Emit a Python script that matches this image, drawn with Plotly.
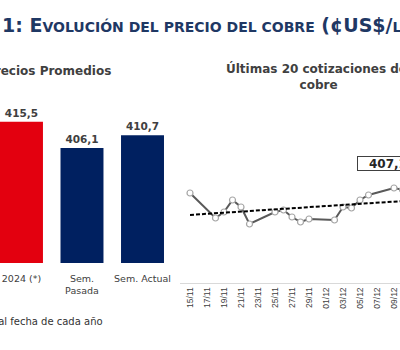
import numpy as np
import pandas as pd
import plotly.graph_objects as go

# ---------------- data ----------------
bar_cats = ["2024 (*)", "Sem.<br>Pasada", "Sem. Actual"]
bar_vals = [415.5, 406.1, 410.7]
bar_colors = ["#E3000F", "#002060", "#002060"]

line_dates = ["2024-11-15", "2024-11-18", "2024-11-19", "2024-11-20", "2024-11-21",
              "2024-11-22", "2024-11-25", "2024-11-26", "2024-11-27", "2024-11-28",
              "2024-11-29", "2024-12-02", "2024-12-03", "2024-12-04", "2024-12-05",
              "2024-12-06", "2024-12-09", "2024-12-10", "2024-12-11", "2024-12-12"]
line_vals = [411.3, 401.3, 403.7, 408.5, 405.7,
             398.9, 403.7, 404.5, 401.7, 399.7,
             400.9, 400.5, 405.7, 405.3, 408.5,
             410.5, 413.3, 412.6, 409.8, 407.1]

title_text = "1: E<span style='font-size:14px'>VOLUCIÓN DEL PRECIO DEL COBRE</span> (¢US$/<span style='font-size:14px'>LB</span>)"
left_sub = "Precios Promedios"
right_sub = "Últimas 20 cotizaciones del<br>cobre"
foot = "(*) Promedio al fecha de cada año"

W, H = 400, 350
def px(x):
    return x / W
def py(y):
    return 1 - y / H

# trend line (least squares on date axis)
d = pd.to_datetime(line_dates)
days = np.array([(t - d[0]).days for t in d], dtype=float)
slope, icpt = np.polyfit(days, np.array(line_vals), 1)
trend_vals = [icpt + slope * days[0], icpt + slope * days[-1]]
trend_dates = [line_dates[0], line_dates[-1]]

fig = go.Figure()
fig.add_trace(go.Bar(
    x=bar_cats, y=bar_vals, marker=dict(color=bar_colors, line=dict(width=0)),
    texttemplate="%{y:.1f}", textposition="outside", cliponaxis=False,
    textfont=dict(family="DejaVu Sans", size=10.5, color="#404040", weight="bold"),
    xaxis="x", yaxis="y", showlegend=False))

fig.add_trace(go.Scatter(
    x=line_dates, y=line_vals, mode="lines+markers",
    line=dict(color="#595959", width=2),
    marker=dict(symbol="circle", size=6, color="white", line=dict(color="#a6a6a6", width=1.2)),
    xaxis="x2", yaxis="y2", showlegend=False))

fig.add_trace(go.Scatter(
    x=trend_dates, y=trend_vals, mode="lines",
    line=dict(color="black", width=2, dash="4px,2px"),
    xaxis="x2", yaxis="y2", showlegend=False))

start = d[0]
r0 = start - pd.Timedelta(days=10 / 8.5)
r1 = start + pd.Timedelta(days=210 / 8.5)

fig.update_layout(
    width=W, height=H, margin=dict(l=0, r=0, t=0, b=0),
    paper_bgcolor="white", plot_bgcolor="white",
    separators=",.",
    bargap=0.29,
    xaxis=dict(domain=[0, px(175)], type="category", range=[-0.355, 2.537],
               showgrid=False, showline=False, zeroline=False, ticks="",
               tickfont=dict(family="DejaVu Sans", size=9.5, color="#404040"),
               ticklabelstandoff=8, fixedrange=True),
    yaxis=dict(domain=[py(263), py(100)], range=[364.5, 423.4], visible=False),
    xaxis2=dict(domain=[px(180), 1], type="date", range=[r0, r1], anchor="y2",
                tickformat="%d/%m", dtick=2 * 86400000, tick0=line_dates[0],
                tickangle=-90, showgrid=False, zeroline=False, showline=True,
                linecolor="#d9d9d9", linewidth=1, ticks="",
                tickfont=dict(family="Liberation Sans", size=8.5, color="#404040")),
    yaxis2=dict(domain=[py(283), py(100)], range=[375.3, 448.5], visible=False, anchor="x2"),
    annotations=[
        dict(text="<b>" + title_text + "</b>", x=px(0), y=py(25), xref="paper", yref="paper",
             xanchor="left", yanchor="middle", showarrow=False,
             font=dict(family="DejaVu Sans", size=19, color="#1F3864")),
        dict(text="<b>" + left_sub + "</b>", x=px(113), y=py(71), xref="paper", yref="paper",
             xanchor="right", yanchor="middle", showarrow=False,
             font=dict(family="DejaVu Sans", size=12, color="#404040")),
        dict(text="<b>" + right_sub + "</b>", x=px(318), y=py(76.5), xref="paper", yref="paper",
             xanchor="center", yanchor="middle", showarrow=False, align="center",
             font=dict(family="DejaVu Sans", size=12, color="#404040")),
        dict(text=foot, x=px(105), y=py(321), xref="paper", yref="paper",
             xanchor="right", yanchor="middle", showarrow=False,
             font=dict(family="DejaVu Sans", size=10, color="#333333")),
        dict(text="<b>" + f"{line_vals[-1]:.1f}".replace(".", ",") + "</b>",
             x=px(357), y=py(163.5), xref="paper", yref="paper",
             xanchor="left", yanchor="middle", showarrow=False,
             width=60, height=13, align="center", bgcolor="white",
             bordercolor="#404040", borderwidth=1, borderpad=0,
             font=dict(family="DejaVu Sans", size=12, color="#262626")),
    ],
)

fig.write_html("out.html")
